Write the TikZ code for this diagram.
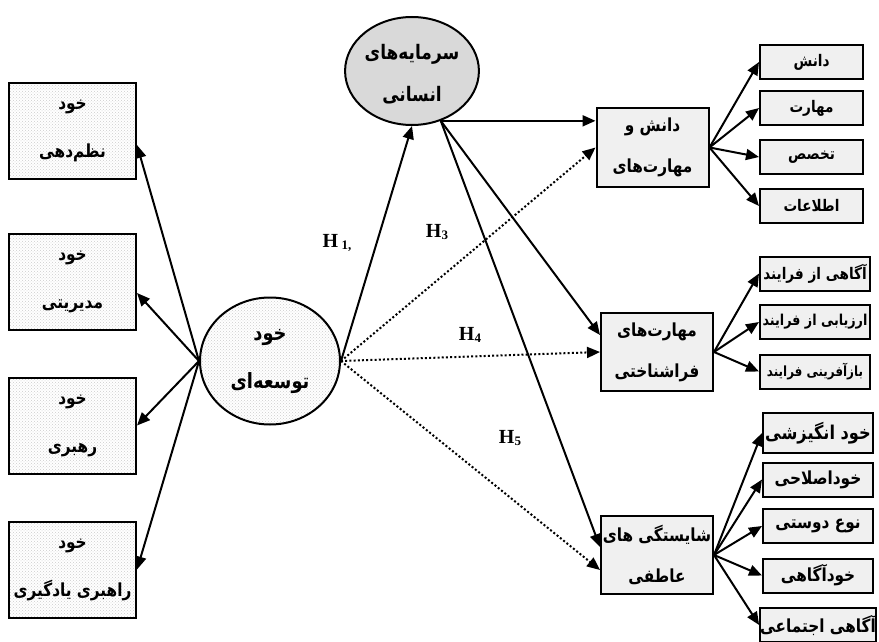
\documentclass[tikz,border=0pt]{standalone}
\usepackage{fontspec}
\setmainfont{Liberation Serif}
\newfontfamily\farsi[Script=Arabic,FakeStretch=0.85]{DejaVu Sans}
\TeXXeTstate=1
\usetikzlibrary{shapes.geometric,arrows.meta,patterns}
\newcommand{\fa}[1]{{\farsi\bfseries\beginR #1\endR}}

\begin{document}
\begin{tikzpicture}[x=1pt,y=-1pt,
  dotbox/.style={rectangle,draw,line width=2pt,minimum width=127pt,minimum height=96pt,inner sep=0pt,align=center,
    preaction={fill=white},pattern=crosshatch dots,pattern color=gray!40,font=\fontsize{18}{48}\selectfont},
  gbox/.style={rectangle,draw,line width=2pt,fill=gray!12,minimum width=112pt,minimum height=78pt,inner sep=0pt,
    align=center,font=\fontsize{18}{41}\selectfont},
  sbox/.style={rectangle,draw,line width=2pt,fill=gray!12,minimum height=34pt,inner sep=0pt,font=\fontsize{18}{20}\selectfont},
  arr/.style={-{Triangle[length=13pt,width=11pt]},line width=2pt},
  darr/.style={arr,dash pattern=on 2pt off 2.2pt},
  hlab/.style={font=\bfseries\fontsize{20}{20}\selectfont}]
  \useasboundingbox (0,0) rectangle (879,642);

  \node[dotbox] (b1) at (72.5,131) {\fa{خود}\\\fa{نظم‌دهی}};
  \node[dotbox] (b2) at (72.5,282) {\fa{خود}\\\fa{مدیریتی}};
  \node[dotbox] (b3) at (72.5,425.5) {\fa{خود}\\\fa{رهبری}};
  \node[dotbox] (b4) at (72.5,569.5) {\fa{خود}\\\fa{راهبری یادگیری}};

  \node[ellipse,draw,line width=2pt,minimum width=140pt,minimum height=127pt,inner sep=0pt,align=center,
    preaction={fill=white},pattern=crosshatch dots,pattern color=gray!40,font=\fontsize{21}{48}\selectfont]
    (gl) at (270,361) {\fa{خود}\\\fa{توسعه‌ای}};
  \node[ellipse,draw,line width=2pt,fill=gray!30,minimum width=118pt,minimum height=108pt,inner sep=0pt,align=center,
    font=\fontsize{20}{42}\selectfont] (hc) at (412,71)
    {\raisebox{-10pt}[0pt][0pt]{\fa{سرمایه‌های}}\\\raisebox{-10pt}[0pt][0pt]{\fa{انسانی}}};

  \node[gbox] (dm) at (652.5,147.5) {\fa{دانش و}\\\fa{مهارت‌های}};
  \node[gbox] (mf) at (657,352) {\fa{مهارت‌های}\\\fa{فراشناختی}};
  \node[gbox] (sa) at (657,555) {\fa{شایستگی های}\\\fa{عاطفی}};

  \node[sbox,minimum width=103pt,font=\fontsize{16}{18}\selectfont] (k1) at (811.5,62) {\fa{دانش}};
  \node[sbox,minimum width=103pt,font=\fontsize{16}{18}\selectfont] (k2) at (811.5,108) {\fa{مهارت}};
  \node[sbox,minimum width=103pt,font=\fontsize{16}{18}\selectfont] (k3) at (811.5,157) {\fa{تخصص}};
  \node[sbox,minimum width=103pt,font=\fontsize{16}{18}\selectfont] (k4) at (811.5,206) {\fa{اطلاعات}};

  \node[sbox,minimum width=110pt,font=\fontsize{16}{18}\selectfont] (f1) at (815,273.5) {\fa{آگاهی از فرایند}};
  \node[sbox,minimum width=110pt,font=\fontsize{15}{17}\selectfont] (f2) at (815,322) {\fa{ارزیابی از فرایند}};
  \node[sbox,minimum width=110pt,font=\fontsize{14}{16}\selectfont] (f3) at (815,371.5) {\fa{بازآفرینی فرایند}};

  \node[sbox,minimum width=110pt,minimum height=40pt,font=\fontsize{19}{21}\selectfont] (e1) at (818,433) {\fa{خود انگیزشی}};
  \node[sbox,minimum width=110pt] (e2) at (818,479.5) {\fa{خوداصلاحی}};
  \node[sbox,minimum width=110pt] (e3) at (818,526) {\fa{نوع دوستی}};
  \node[sbox,minimum width=110pt] (e4) at (818,575.5) {\fa{خودآگاهی}};
  \node[sbox,minimum width=110pt] (e5) at (818,625) {\fa{آگاهی اجتماعی}};

  \draw[arr] (gl.west) -- ([yshift=-14pt]b1.east);
  \draw[arr] (gl.west) -- ([yshift=-11pt]b2.east);
  \draw[arr] (gl.west) -- (b3.east);
  \draw[arr] (gl.west) -- (b4.east);

  \draw[arr] (gl.east) -- (hc.south);
  \draw[arr] (hc.-60) -- (hc.-60 -| dm.west);
  \draw[arr] (hc.-60) -- ([yshift=17pt]mf.west);
  \draw[arr] (hc.-60) -- ([yshift=8pt]sa.west);
  \draw[darr] (gl.east) -- (dm.west);
  \draw[darr] (gl.east) -- (mf.west);
  \draw[darr] (gl.east) -- ([yshift=-15pt]sa.west);

  \draw[arr] (dm.east) -- (k1.west);
  \draw[arr] (dm.east) -- (k2.west);
  \draw[arr] (dm.east) -- (k3.west);
  \draw[arr] (dm.east) -- (k4.west);

  \draw[arr] (mf.east) -- (f1.west);
  \draw[arr] (mf.east) -- (f2.west);
  \draw[arr] (mf.east) -- (f3.west);

  \draw[arr] (sa.east) -- (e1.west);
  \draw[arr] (sa.east) -- (e2.west);
  \draw[arr] (sa.east) -- (e3.west);
  \draw[arr] (sa.east) -- (e4.west);
  \draw[arr] (sa.east) -- (e5.west);

  \node[hlab] (h1) at (337,243) {H\,\raisebox{-2pt}{\fontsize{13}{13}\selectfont 1,}};
  \node[hlab] (h3) at (437,232) {H\raisebox{-2pt}{\fontsize{13}{13}\selectfont 3}};
  \node[hlab] (h4) at (470,335) {H\raisebox{-2pt}{\fontsize{13}{13}\selectfont 4}};
  \node[hlab] (h5) at (510,438) {H\raisebox{-2pt}{\fontsize{13}{13}\selectfont 5}};
\end{tikzpicture}
\end{document}
